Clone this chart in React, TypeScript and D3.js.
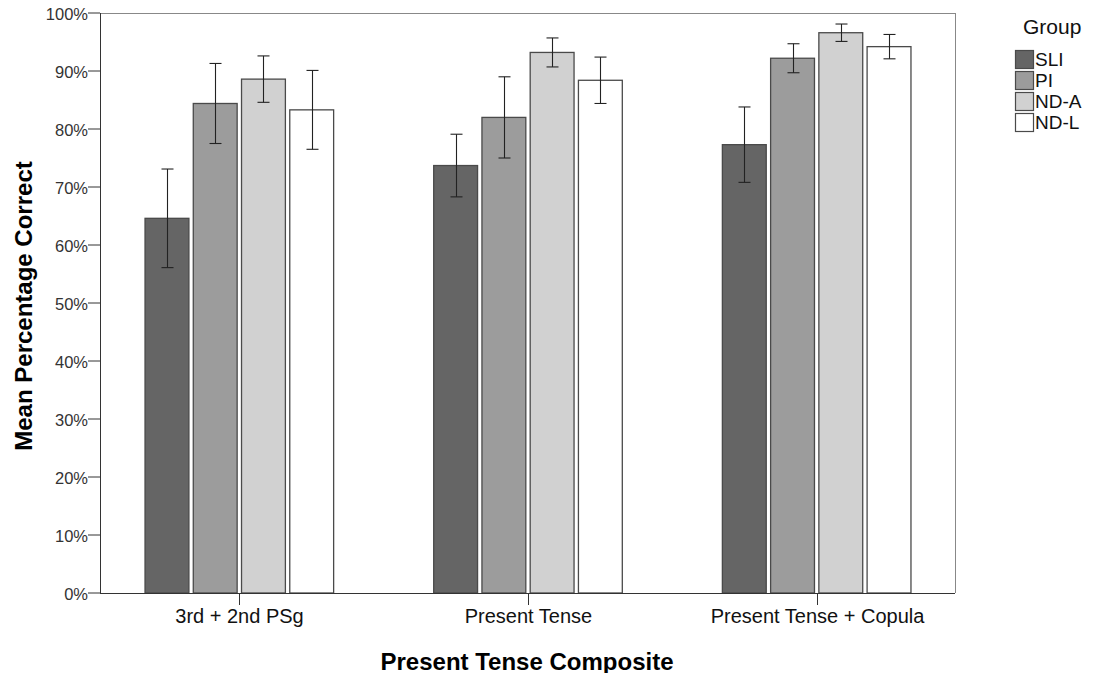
import React from 'react';
import * as d3 from 'd3';

const categories = ['3rd + 2nd PSg', 'Present Tense', 'Present Tense + Copula'];
const groups = ['SLI', 'PI', 'ND-A', 'ND-L'];
const groupColors = ['#656565', '#9c9c9c', '#d1d1d1', '#ffffff'];

// means and half-widths of error bars, in percent
const sliMeans = [64.6, 73.7, 77.3];
const sliErr = [8.5, 5.4, 6.5];
const piMeans = [84.4, 82.0, 92.2];
const piErr = [6.9, 7.0, 2.5];
const ndaMeans = [88.6, 93.2, 96.6];
const ndaErr = [4.0, 2.5, 1.5];
const ndlMeans = [83.3, 88.4, 94.2];
const ndlErr = [6.8, 4.0, 2.1];

const yTicks = [0, 10, 20, 30, 40, 50, 60, 70, 80, 90, 100];

const means = [sliMeans, piMeans, ndaMeans, ndlMeans];
const errs = [sliErr, piErr, ndaErr, ndlErr];

const W = 1097;
const H = 681;
const plot = { left: 100, right: 955, top: 13, bottom: 593 };
const font = "'Liberation Sans', Arial, sans-serif";

export default function App() {
  const y = d3.scaleLinear().domain([0, 100]).range([plot.bottom, plot.top]);
  const x0 = d3.scaleBand<string>().domain(categories).range([95, 961]).padding(0);
  const groupSpan = 189.6;
  const x1 = d3
    .scaleBand<string>()
    .domain(groups)
    .range([-groupSpan / 2, groupSpan / 2])
    .paddingInner(0.07)
    .paddingOuter(0);
  const bw = x1.bandwidth();

  const bars: any[] = [];
  categories.forEach((c, ci) => {
    groups.forEach((g, gi) => {
      bars.push({
        cat: c,
        group: g,
        color: groupColors[gi],
        mean: means[gi][ci],
        err: errs[gi][ci],
        x: (x0(c) as number) + x0.bandwidth() / 2 + (x1(g) as number),
      });
    });
  });

  return (
    <div style={{ margin: -8 }}>
      <svg width={W} height={H} style={{ display: 'block', background: '#fff' }} fontFamily={font}>
        {/* frame */}
        <line x1={plot.left} x2={plot.right} y1={plot.top + 0.5} y2={plot.top + 0.5} stroke="#888" />
        <line x1={plot.right + 0.5} x2={plot.right + 0.5} y1={plot.top} y2={plot.bottom} stroke="#888" />

        {/* bars */}
        {bars.map((b, i) => (
          <rect
            key={i}
            x={b.x + 0.5}
            y={y(b.mean)}
            width={bw - 1}
            height={plot.bottom - y(b.mean)}
            fill={b.color}
            stroke="#4a4a4a"
            strokeWidth={1.3}
          />
        ))}

        {/* error bars */}
        {bars.map((b, i) => {
          const cx = Math.round(b.x + bw / 2) + 0.5;
          const yt = y(b.mean + b.err);
          const yb = y(b.mean - b.err);
          return (
            <g key={'e' + i} stroke="#222" strokeWidth={1.1}>
              <line x1={cx} x2={cx} y1={yt} y2={yb} />
              <line x1={cx - 6} x2={cx + 6} y1={yt} y2={yt} />
              <line x1={cx - 6} x2={cx + 6} y1={yb} y2={yb} />
            </g>
          );
        })}

        {/* y axis */}
        <line x1={plot.left + 0.5} x2={plot.left + 0.5} y1={plot.top} y2={plot.bottom} stroke="#333" />
        {yTicks.map((t) => (
          <g key={t}>
            <line x1={plot.left - 12} x2={plot.left} y1={y(t)} y2={y(t)} stroke="#333" />
            <text x={plot.left - 12} y={y(t) + 6.5} textAnchor="end" fontSize={16.5} fill="#333">
              {t + '%'}
            </text>
          </g>
        ))}

        {/* x axis */}
        <line x1={plot.left} x2={plot.right} y1={plot.bottom + 0.5} y2={plot.bottom + 0.5} stroke="#333" />
        {categories.map((c) => {
          const cx = Math.round((x0(c) as number) + x0.bandwidth() / 2) + 0.5;
          return (
            <g key={c}>
              <line x1={cx} x2={cx} y1={plot.bottom} y2={plot.bottom + 12} stroke="#333" />
              <text x={cx} y={623} textAnchor="middle" fontSize={20} fill="#111">
                {c}
              </text>
            </g>
          );
        })}

        {/* titles */}
        <text x={527} y={670} textAnchor="middle" fontSize={24} fontWeight="bold" fill="#000">
          Present Tense Composite
        </text>
        <text
          transform={`translate(32, 306) rotate(-90)`}
          textAnchor="middle"
          fontSize={24}
          fontWeight="bold"
          fill="#000"
        >
          Mean Percentage Correct
        </text>

        {/* legend */}
        <text x={1023} y={34} fontSize={21} fill="#111">
          Group
        </text>
        {groups.map((g, i) => (
          <g key={g} transform={`translate(1015, ${50 + i * 21})`}>
            <rect x={0.5} y={0.5} width={18} height={18} fill={groupColors[i]} stroke="#4a4a4a" strokeWidth={1.2} />
            <text x={20} y={15.5} fontSize={19} fill="#111">
              {g}
            </text>
          </g>
        ))}
      </svg>
    </div>
  );
}
